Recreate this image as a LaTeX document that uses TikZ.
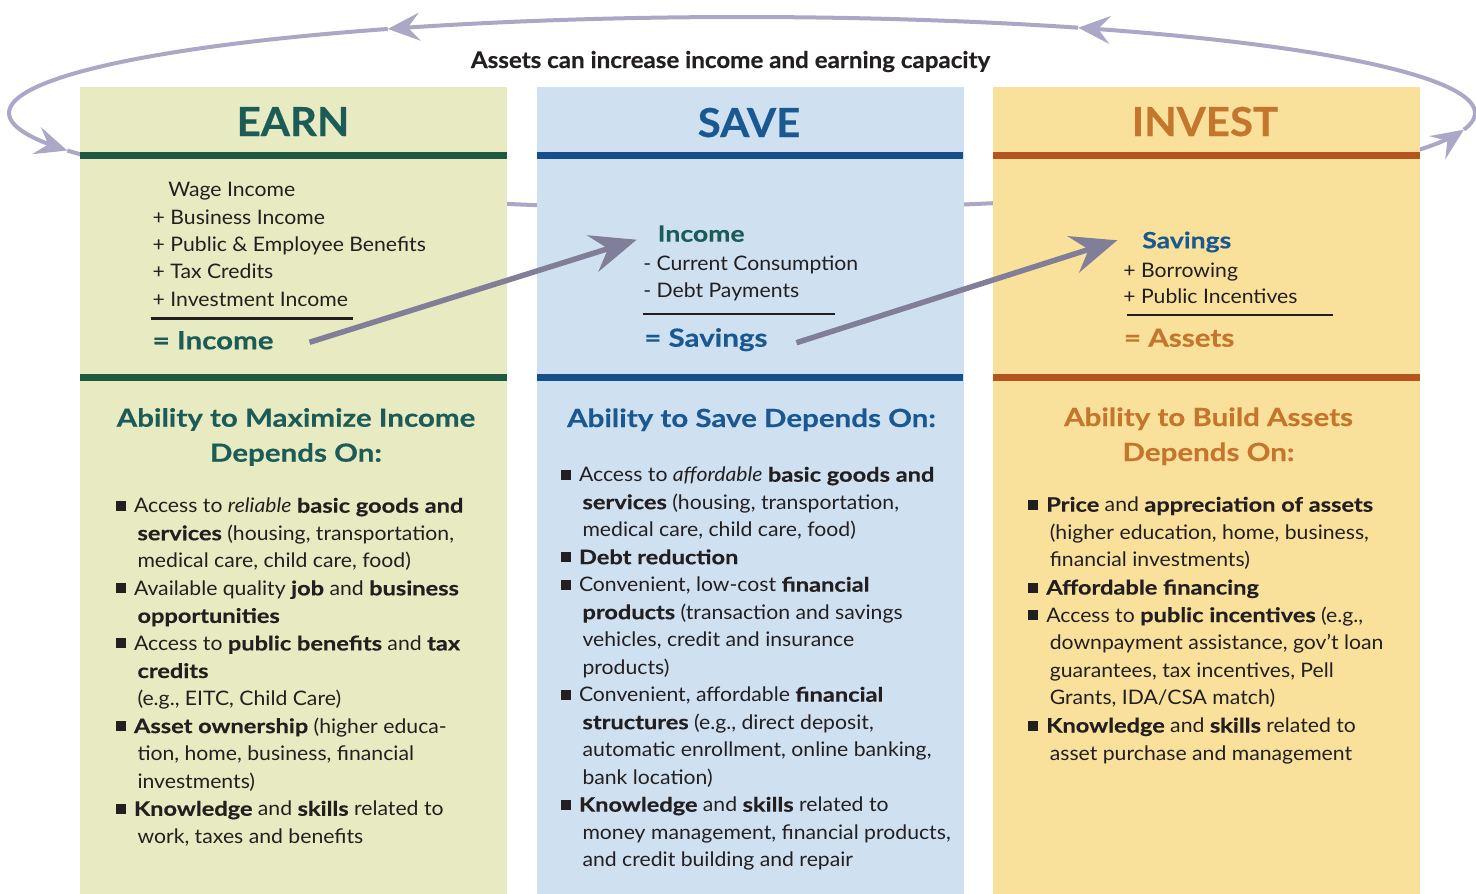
\documentclass[tikz,border=0pt]{standalone}
\usepackage{fontspec}
% humanist sans, widened a little; the bold face wider and heavier
\setmainfont{Lato}[
  UprightFeatures={FakeStretch=1.06},
  ItalicFeatures={FakeStretch=1.06},
  BoldFeatures={FakeStretch=1.18, FakeBold=0.4},
  BoldItalicFeatures={FakeStretch=1.18, FakeBold=0.4}]
\newfontfamily\titlefont{Lato}[FakeStretch=1.05, BoldFeatures={FakeStretch=1.05, FakeBold=0.4}]
\usetikzlibrary{arrows.meta}

% palette
\definecolor{earnbg}{RGB}{232,235,193}
\definecolor{savebg}{RGB}{207,225,241}
\definecolor{investbg}{RGB}{249,225,156}
\definecolor{earnbar}{RGB}{30,90,66}
\definecolor{earnhd}{RGB}{28,92,88}
\definecolor{savebar}{RGB}{22,80,138}
\definecolor{savehd}{RGB}{26,88,146}
\definecolor{investbar}{RGB}{180,84,30}
\definecolor{investhd}{RGB}{196,118,44}
\definecolor{loopcol}{RGB}{170,168,198}
\definecolor{flowcol}{RGB}{128,126,152}
\definecolor{ink}{RGB}{35,31,32}

% square bullet and hanging indent for the lists
\newcommand{\sqb}{\makebox[18pt][l]{\rule[2pt]{10pt}{10pt}}}
\newcommand{\cnt}{\hspace*{21.5pt}}
% block of lines whose first baseline is the node's base
\newcommand{\textblock}[3]{\parbox[t]{450pt}{\fontsize{#1}{#2}\selectfont #3}}
\newcommand{\centerblock}[3]{\parbox[t]{450pt}{\centering\fontsize{#1}{#2}\selectfont #3}}

\tikzset{
  panel/.style={fill=#1, draw=none, minimum width=427pt, minimum height=807pt,
                anchor=north west, inner sep=0pt, outer sep=0pt},
  txt/.style={inner sep=0pt, outer sep=0pt, text=ink},
  title/.style={txt, anchor=base, font=\titlefont\fontsize{40}{40}\selectfont\bfseries},
  total/.style={txt, anchor=base west, font=\fontsize{25}{25}\selectfont\bfseries},
  head/.style={txt, anchor=base west, font=\fontsize{22.5}{22.5}\selectfont\bfseries},
  loopline/.style={draw=loopcol, line width=4pt,
                   -{Stealth[length=32pt, width=28pt, inset=12pt]}},
  flow/.style={draw=flowcol, line width=5.5pt,
               -{Stealth[length=46pt, width=38pt, inset=16pt]}},
  sumrule/.style={draw=ink, line width=2.5pt},
}

\begin{document}
\begin{tikzpicture}[x=1pt, y=-1pt]
\useasboundingbox (0,0) rectangle (1476,894);
\fill[white] (0,0) rectangle (1476,894);

% the feedback loop around the three columns
\draw[loopline] plot[domain=157:10, samples=90] ({742+733*cos(\x)},{113+96*sin(\x)});
\draw[loopline] plot[domain=10:-62.7, samples=60] ({742+733*cos(\x)},{113+96*sin(\x)});
\draw[loopline] plot[domain=-62.7:-118.9, samples=60] ({742+733*cos(\x)},{113+96*sin(\x)});
\draw[loopline] plot[domain=-118.9:-203, samples=60] ({742+733*cos(\x)},{113+96*sin(\x)});

\node[txt, anchor=base, font=\titlefont\fontsize{23}{23}\selectfont\bfseries] (loopcap) at (730.5,68)
  {Assets can increase income and earning capacity};

% column panels
\node[panel=earnbg]   (earnP)   at (80,87) {};
\node[panel=savebg]   (saveP)   at (536.7,87) {};
\node[panel=investbg] (investP) at (993.3,87) {};

% header and divider bars
\fill[earnbar]   (80,152) rectangle (507,159);
\fill[earnbar]   (80,373.5) rectangle (507,380.5);
\fill[savebar]   (536.7,152) rectangle (963.3,159);
\fill[savebar]   (536.7,373.5) rectangle (963.3,380.5);
\fill[investbar] (993.3,151.5) rectangle (1419.5,158.5);
\fill[investbar] (993.3,373.5) rectangle (1419.5,380.5);

% column titles
\node[title, text=earnhd]   (earnT)   at (293,136) {EARN};
\node[title, text=savehd]   (saveT)   at (749,137) {SAVE};
\node[title, text=investhd] (investT) at (1205,136) {INVEST};

% EARN: income sum
\node[txt, anchor=base west] (earnSum) at (152.7,196.7) {\textblock{20}{27.4}{%
  \hspace*{15.6pt}Wage Income\\
  + Business Income\\
  + Public \& Employee Benefits\\
  + Tax Credits\\
  + Investment Income}};
\draw[sumrule] (150.7,318.3) -- (353,318.3);
\node[total, text=earnhd] (eqInc) at (152.7,349.3) {= Income};

% SAVE: savings sum
\node[head, text=earnhd] (incS) at (657.7,241.7) {Income};
\node[txt, anchor=base west] (saveSum) at (643.3,270) {\textblock{20}{27.3}{%
  - Current Consumption\\
  - Debt Payments}};
\draw[sumrule] (642.7,314) -- (835,314);
\node[total, text=savehd] (eqSav) at (644.3,346.7) {= Savings};

% INVEST: assets sum
\node[head, text=savehd] (savI) at (1142.3,248.3) {Savings};
\node[txt, anchor=base west] (investSum) at (1123.3,277.3) {\textblock{20}{26}{%
  + Borrowing\\
  + Public Incentives}};
\draw[sumrule] (1127.3,315) -- (1333.3,315);
\node[total, text=investhd] (eqAss) at (1124,346.7) {= Assets};

% flow from one column's result to the next
\draw[flow] ([shift={(36,-7)}]eqInc.base east) -- ([shift={(-21,-2)}]incS.base west);
\draw[flow] ([shift={(29,-4)}]eqSav.base east) -- ([shift={(-25,-8)}]savI.base west);

% sub-headings
\node[txt, anchor=base, text=earnhd] (earnH) at (296,426.7)
  {\centerblock{25}{35}{\bfseries Ability to Maximize Income\\ Depends On:}};
\node[txt, anchor=base, text=savehd] (saveH) at (751.5,427)
  {\centerblock{25}{35}{\bfseries Ability to Save Depends On:}};
\node[txt, anchor=base, text=investhd] (investH) at (1208.5,426)
  {\centerblock{25}{35}{\bfseries Ability to Build Assets\\ Depends On:}};

% EARN list
\node[txt, anchor=base west] (earnL) at (116,512.7) {\textblock{20}{27.55}{%
  \sqb Access to \textit{reliable} \textbf{basic goods and}\\
  \cnt\textbf{services} (housing, transportation,\\
  \cnt medical care, child care, food)\\
  \sqb Available quality \textbf{job} and \textbf{business}\\
  \cnt\textbf{opportunities}\\
  \sqb Access to \textbf{public benefits} and \textbf{tax}\\
  \cnt\textbf{credits}\\
  \cnt(e.g., EITC, Child Care)\\
  \sqb\textbf{Asset ownership} (higher educa-\\
  \cnt tion, home, business, financial\\
  \cnt investments)\\
  \sqb\textbf{Knowledge} and \textbf{skills} related to\\
  \cnt work, taxes and benefits}};

% SAVE list
\node[txt, anchor=base west] (saveL) at (561,481.7) {\textblock{20}{27.5}{%
  \sqb Access to \textit{affordable} \textbf{basic goods and}\\
  \cnt\textbf{services} (housing, transportation,\\
  \cnt medical care, child care, food)\\
  \sqb\textbf{Debt reduction}\\
  \sqb Convenient, low-cost \textbf{financial}\\
  \cnt\textbf{products} (transaction and savings\\
  \cnt vehicles, credit and insurance\\
  \cnt products)\\
  \sqb Convenient, affordable \textbf{financial}\\
  \cnt\textbf{structures} (e.g., direct deposit,\\
  \cnt automatic enrollment, online banking,\\
  \cnt bank location)\\
  \sqb\textbf{Knowledge} and \textbf{skills} related to\\
  \cnt money management, financial products,\\
  \cnt and credit building and repair}};

% INVEST list
\node[txt, anchor=base west] (investL) at (1028.3,511.7) {\textblock{20}{27.6}{%
  \sqb\textbf{Price} and \textbf{appreciation of assets}\\
  \cnt(higher education, home, business,\\
  \cnt financial investments)\\
  \sqb\textbf{Affordable financing}\\
  \sqb Access to \textbf{public incentives} (e.g.,\\
  \cnt downpayment assistance, gov’t loan\\
  \cnt guarantees, tax incentives, Pell\\
  \cnt Grants, IDA/CSA match)\\
  \sqb\textbf{Knowledge} and \textbf{skills} related to\\
  \cnt asset purchase and management}};
\end{tikzpicture}
\end{document}
